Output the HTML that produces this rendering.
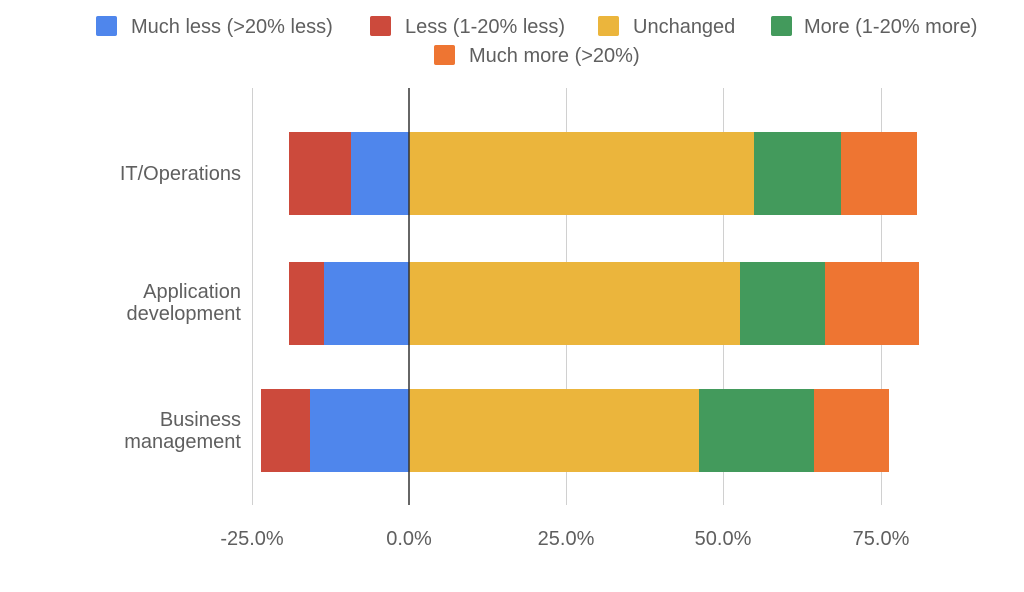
<!DOCTYPE html>
<html><head><meta charset="utf-8"><style>
body{margin:0;background:#fff;}
svg text{font-family:"Liberation Sans",sans-serif;fill:#5f5f5f;}
</style></head><body>
<svg width="1024" height="587" xmlns="http://www.w3.org/2000/svg">
<g font-size="20">
<rect x="96" y="16" width="21" height="20" rx="2" fill="#4f86ec"/><text x="131" y="33">Much less (&gt;20% less)</text>
<rect x="370" y="16" width="21" height="20" rx="2" fill="#cc4a3c"/><text x="405" y="33">Less (1-20% less)</text>
<rect x="598" y="16" width="21" height="20" rx="2" fill="#ebb53c"/><text x="633" y="33">Unchanged</text>
<rect x="771" y="16" width="21" height="20" rx="2" fill="#439a5c"/><text x="804" y="33">More (1-20% more)</text>
<rect x="434" y="45" width="21" height="20" rx="2" fill="#ee7532"/><text x="469" y="62">Much more (&gt;20%)</text>
</g>
<g stroke="#d0d0d0" stroke-width="1">
<line x1="252.5" y1="88" x2="252.5" y2="505"/>
<line x1="566.5" y1="88" x2="566.5" y2="505"/>
<line x1="723.5" y1="88" x2="723.5" y2="505"/>
<line x1="881.5" y1="88" x2="881.5" y2="505"/>
</g>
<g>
<rect x="289" y="132" width="62" height="83" fill="#cc4a3c"/>
<rect x="351" y="132" width="58" height="83" fill="#4f86ec"/>
<rect x="409" y="132" width="345" height="83" fill="#ebb53c"/>
<rect x="754" y="132" width="87" height="83" fill="#439a5c"/>
<rect x="841" y="132" width="76" height="83" fill="#ee7532"/>

<rect x="289" y="262" width="35" height="83" fill="#cc4a3c"/>
<rect x="324" y="262" width="85" height="83" fill="#4f86ec"/>
<rect x="409" y="262" width="331" height="83" fill="#ebb53c"/>
<rect x="740" y="262" width="85" height="83" fill="#439a5c"/>
<rect x="825" y="262" width="94" height="83" fill="#ee7532"/>

<rect x="261" y="389" width="49" height="83" fill="#cc4a3c"/>
<rect x="310" y="389" width="99" height="83" fill="#4f86ec"/>
<rect x="409" y="389" width="290" height="83" fill="#ebb53c"/>
<rect x="699" y="389" width="115" height="83" fill="#439a5c"/>
<rect x="814" y="389" width="75" height="83" fill="#ee7532"/>
</g>
<line x1="409" y1="88" x2="409" y2="505" stroke="#333" stroke-width="1.5"/>
<g font-size="20" text-anchor="end">
<text x="241" y="180">IT/Operations</text>
<text x="241" y="298">Application</text>
<text x="241" y="320">development</text>
<text x="241" y="426">Business</text>
<text x="241" y="448">management</text>
</g>
<g font-size="20" text-anchor="middle">
<text x="252" y="545">-25.0%</text>
<text x="409" y="545">0.0%</text>
<text x="566" y="545">25.0%</text>
<text x="723" y="545">50.0%</text>
<text x="881" y="545">75.0%</text>
</g>
</svg>
</body></html>
